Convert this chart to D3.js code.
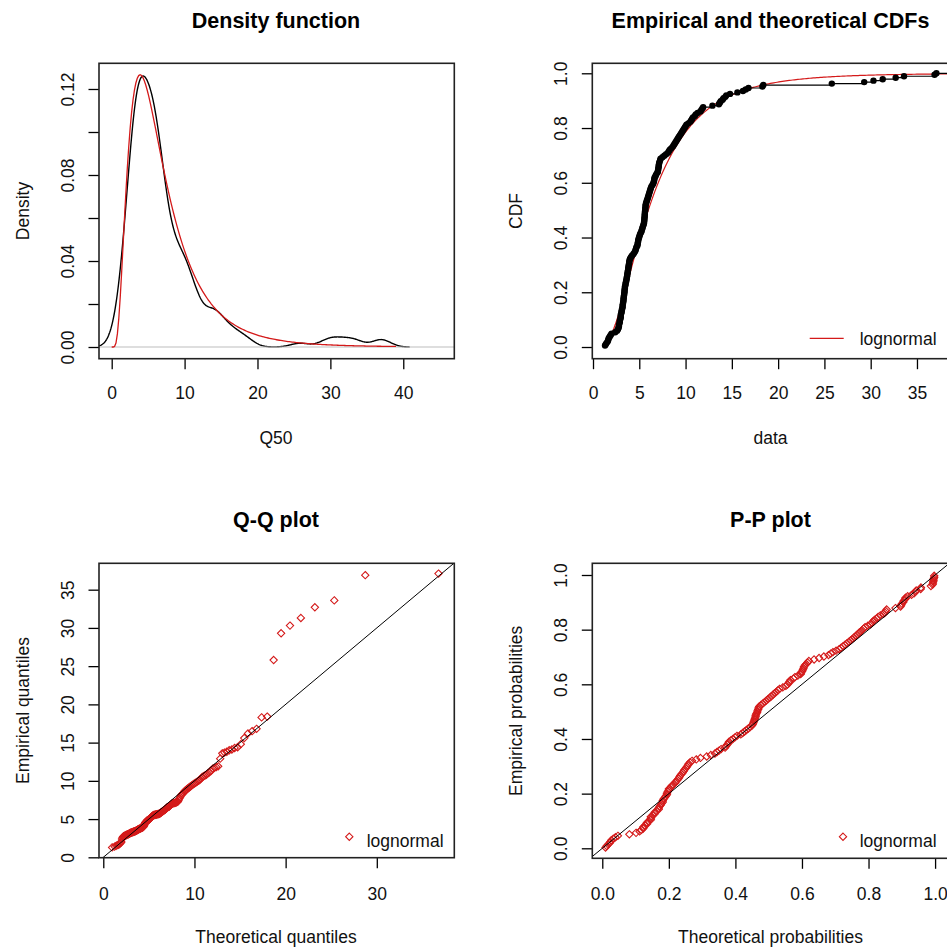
<!DOCTYPE html>
<html>
<head>
<meta charset="utf-8">
<script src="https://cdn.jsdelivr.net/npm/d3@7"></script>
<style>
  body { margin: 0; background: #fff; }
  svg { display: block; font-family: "Liberation Sans", Arial, sans-serif; }
</style>
</head>
<body>
<div id="plot_canvas"></div>
<script>
const q50 = [
  1.3, 1.4, 1.5, 1.6, 1.65, 1.7, 1.8, 1.9, 2.0, 2.4,
  2.6, 2.7, 2.75, 2.8, 2.8, 2.85, 2.9, 2.9, 2.95, 3.0,
  3.0, 3.0, 3.05, 3.1, 3.1, 3.15, 3.2, 3.2, 3.22, 3.25,
  3.27, 3.3, 3.3, 3.32, 3.35, 3.37, 3.4, 3.4, 3.42, 3.44,
  3.45, 3.5, 3.52, 3.55, 3.6, 3.62, 3.65, 3.68, 3.7, 3.72,
  3.75, 3.78, 3.8, 3.82, 3.85, 3.88, 3.9, 3.92, 3.95, 4.0,
  4.1, 4.2, 4.35, 4.45, 4.55, 4.6, 4.65, 4.7, 4.8, 4.82,
  4.85, 4.88, 4.9, 4.95, 5.0, 5.05, 5.1, 5.2, 5.25, 5.3,
  5.35, 5.4, 5.45, 5.5, 5.52, 5.54, 5.55, 5.57, 5.58, 5.6,
  5.6, 5.62, 5.64, 5.65, 5.67, 5.68, 5.7, 5.75, 5.8, 5.85,
  5.9, 5.95, 6.0, 6.05, 6.1, 6.15, 6.2, 6.25, 6.3, 6.4,
  6.5, 6.55, 6.6, 6.62, 6.65, 6.75, 6.8, 6.9, 7.0, 7.02,
  7.05, 7.08, 7.1, 7.12, 7.15, 7.2, 7.25, 7.3, 7.5, 7.7,
  7.9, 8.1, 8.2, 8.3, 8.45, 8.6, 8.7, 8.8, 8.9, 9.0,
  9.1, 9.2, 9.3, 9.4, 9.5, 9.6, 9.7, 9.8, 9.9, 10.0,
  10.1, 10.3, 10.5, 10.6, 10.7, 10.8, 11.0, 11.1, 11.3, 11.6,
  11.7, 11.8, 11.9, 12.9, 13.6, 13.7, 13.8, 14.0, 14.1, 14.3,
  14.4, 14.8, 15.6, 16.2, 16.5, 16.8, 18.3, 18.4, 25.8, 29.3,
  30.3, 31.3, 32.7, 33.6, 36.9, 37.1
];

// fitted lognormal
const meanlog = 1.787;
const sdlog = 0.653;
const fitName = 'lognormal';

// ticks
const densityXTicks = [0, 10, 20, 30, 40];
const densityYTicks = [0, 0.02, 0.04, 0.06, 0.08, 0.10, 0.12];
const densityYLabels = ['0.00', '', '0.04', '', '0.08', '', '0.12'];
const cdfXTicks = [0, 5, 10, 15, 20, 25, 30, 35];
const probTicks = [0, 0.2, 0.4, 0.6, 0.8, 1.0];
const qqXTicks = [0, 10, 20, 30];
const qqYTicks = [0, 5, 10, 15, 20, 25, 30, 35];

const titles = ['Density function', 'Empirical and theoretical CDFs', 'Q-Q plot', 'P-P plot'];
const xLabels = ['Q50', 'data', 'Theoretical quantiles', 'Theoretical probabilities'];
const yLabels = ['Density', 'CDF', 'Empirical quantiles', 'Empirical probabilities'];

const fitColor = '#d41a1a';

// normal distribution helpers
function pnorm(z) {
  // Abramowitz & Stegun 7.1.26
  const t = 1 / (1 + 0.3275911 * Math.abs(z) / Math.SQRT2);
  const y = 1 - (((((1.061405429 * t - 1.453152027) * t) + 1.421413741) * t - 0.284496736) * t + 0.254829592) * t * Math.exp(-z * z / 2);
  return z >= 0 ? 0.5 * (1 + y) : 0.5 * (1 - y);
}

function qnorm(p) {
  // Acklam's approximation
  const a = [-3.969683028665376e+01, 2.209460984245205e+02, -2.759285104469687e+02, 1.383577518672690e+02, -3.066479806614716e+01, 2.506628277459239e+00];
  const b = [-5.447609879822406e+01, 1.615858368580409e+02, -1.556989798598866e+02, 6.680131188771972e+01, -1.328068155288572e+01];
  const c = [-7.784894002430293e-03, -3.223964580411365e-01, -2.400758277161838e+00, -2.549671010229528e+00, 4.374664141464968e+00, 2.938163982698783e+00];
  const d = [7.784695709041462e-03, 3.224671290700398e-01, 2.445134137142996e+00, 3.754408661907416e+00];
  const plow = 0.02425;
  let q, r;
  if (p < plow) {
    q = Math.sqrt(-2 * Math.log(p));
    return (((((c[0] * q + c[1]) * q + c[2]) * q + c[3]) * q + c[4]) * q + c[5]) / ((((d[0] * q + d[1]) * q + d[2]) * q + d[3]) * q + 1);
  }
  if (p > 1 - plow) {
    q = Math.sqrt(-2 * Math.log(1 - p));
    return -(((((c[0] * q + c[1]) * q + c[2]) * q + c[3]) * q + c[4]) * q + c[5]) / ((((d[0] * q + d[1]) * q + d[2]) * q + d[3]) * q + 1);
  }
  q = p - 0.5;
  r = q * q;
  return (((((a[0] * r + a[1]) * r + a[2]) * r + a[3]) * r + a[4]) * r + a[5]) * q / (((((b[0] * r + b[1]) * r + b[2]) * r + b[3]) * r + b[4]) * r + 1);
}

const dlnorm = x => x <= 0 ? 0 : Math.exp(-Math.pow(Math.log(x) - meanlog, 2) / (2 * sdlog * sdlog)) / (x * sdlog * Math.sqrt(2 * Math.PI));
const plnorm = x => x <= 0 ? 0 : pnorm((Math.log(x) - meanlog) / sdlog);
const qlnorm = p => Math.exp(meanlog + sdlog * qnorm(p));

drawAll();

function drawAll() {

  const W = 947, H = 951;

  d3.selectAll('svg').remove();

  const svg = d3.select('#plot_canvas')
    .append('svg')
    .attr('width', W)
    .attr('height', H);

  const n = q50.length;
  const ppts = d3.range(n).map(i => (i + 0.5) / n);

  // bandwidth like R's bw.nrd0
  const iqr = d3.quantile(q50, 0.75) - d3.quantile(q50, 0.25);
  const bandwidth = 0.9 * Math.min(d3.deviation(q50), iqr / 1.34) * Math.pow(n, -0.2);
  console.log('bw', bandwidth);

  // panel boxes
  const panels = [
    { left: 99, right: 454.3, top: 63.3, bottom: 358.7, xd: [-1.742, 47.0], yd: [-0.00544, 0.13195], xTickY: 40, row: 0 },
    { left: 592.3, right: 949, top: 63.3, bottom: 358.7, xd: [-0.076, 38.46], yd: [-0.0427, 1.0365], xTickY: 40, row: 0 },
    { left: 99, right: 454.3, top: 563.3, bottom: 857.7, xd: [-0.47, 38.5], yd: [-0.05, 38.45], xTickY: 42, row: 1 },
    { left: 592.3, right: 949, top: 563.3, bottom: 858.3, xd: [-0.030, 1.0418], yd: [-0.0366, 1.0428], xTickY: 42, row: 1 }
  ];

  const ticks = [
    { x: densityXTicks, xf: d => d, y: densityYTicks, yf: (d, i) => densityYLabels[i] },
    { x: cdfXTicks, xf: d => d, y: probTicks, yf: d => d.toFixed(1) },
    { x: qqXTicks, xf: d => d, y: qqYTicks, yf: d => d },
    { x: probTicks, xf: d => d.toFixed(1), y: probTicks, yf: d => d.toFixed(1) }
  ];

  const frames = panels.map((p, k) => drawFrame(svg, p, ticks[k], k));

  // ---- density function
  let f = frames[0];
  const lo = q50[0] - 3 * bandwidth, hi = q50[n - 1] + 3 * bandwidth;
  const kde = d3.range(512).map(i => {
    const xv = lo + (hi - lo) * i / 511;
    const dens = d3.sum(q50, v => Math.exp(-0.5 * Math.pow((xv - v) / bandwidth, 2))) / (n * bandwidth * Math.sqrt(2 * Math.PI));
    return [xv, dens];
  });
  f.plot.append('path')
    .datum(kde)
    .attr('fill', 'none')
    .attr('stroke', '#000')
    .attr('stroke-width', 1.4)
    .attr('d', d3.line().x(d => f.x(d[0])).y(d => f.y(d[1])));
  f.plot.append('line')
    .attr('x1', panels[0].left).attr('x2', panels[0].right)
    .attr('y1', f.y(0)).attr('y2', f.y(0))
    .attr('stroke', '#bebebe')
    .attr('stroke-width', 1.2);
  const fitDens = d3.range(201).map(i => { const xv = 39 * i / 200; return [xv, dlnorm(xv)]; });
  f.plot.append('path')
    .datum(fitDens)
    .attr('fill', 'none')
    .attr('stroke', fitColor)
    .attr('stroke-width', 1.3)
    .attr('d', d3.line().x(d => f.x(d[0])).y(d => f.y(d[1])));

  // ---- empirical and theoretical CDFs
  f = frames[1];
  const fitCdf = d3.range(201).map(i => { const xv = q50[0] + (38.5 - q50[0]) * i / 200; return [xv, plnorm(xv)]; });
  f.plot.append('path')
    .datum(fitCdf)
    .attr('fill', 'none')
    .attr('stroke', fitColor)
    .attr('stroke-width', 1.2)
    .attr('d', d3.line().x(d => f.x(d[0])).y(d => f.y(d[1])));
  f.plot.selectAll('.step')
    .data(q50)
    .join('line')
    .attr('class', 'step')
    .attr('x1', d => f.x(d))
    .attr('x2', (d, i) => i < n - 1 ? f.x(q50[i + 1]) : panels[1].right)
    .attr('y1', (d, i) => f.y((i + 1) / n))
    .attr('y2', (d, i) => f.y((i + 1) / n))
    .attr('stroke', '#000')
    .attr('stroke-width', 1.2);
  f.plot.selectAll('.ept')
    .data(q50)
    .join('circle')
    .attr('class', 'ept')
    .attr('cx', d => f.x(d))
    .attr('cy', (d, i) => f.y((i + 1) / n))
    .attr('r', 3.2)
    .attr('fill', '#000');
  legend(svg, 'line', 826.7, 338.3, 859.7, 345);

  // ---- Q-Q plot
  f = frames[2];
  f.plot.selectAll('.qq')
    .data(q50)
    .join('path')
    .attr('class', 'qq')
    .attr('transform', (d, i) => `translate(${f.x(qlnorm(ppts[i]))},${f.y(d)})`)
    .attr('d', d3.symbol(d3.symbolDiamond2, 34))
    .attr('fill', 'none')
    .attr('stroke', fitColor)
    .attr('stroke-width', 1.1);
  f.plot.append('line')
    .attr('x1', f.x(-1)).attr('y1', f.y(-1))
    .attr('x2', f.x(40)).attr('y2', f.y(40))
    .attr('stroke', '#000')
    .attr('stroke-width', 1);
  legend(svg, 'diamond', 349.3, 836.7, 366.7, 846.7);

  // ---- P-P plot
  f = frames[3];
  f.plot.selectAll('.pp')
    .data(q50)
    .join('path')
    .attr('class', 'pp')
    .attr('transform', (d, i) => `translate(${f.x(plnorm(d))},${f.y(ppts[i])})`)
    .attr('d', d3.symbol(d3.symbolDiamond2, 34))
    .attr('fill', 'none')
    .attr('stroke', fitColor)
    .attr('stroke-width', 1.1);
  f.plot.append('line')
    .attr('x1', f.x(-0.1)).attr('y1', f.y(-0.1))
    .attr('x2', f.x(1.1)).attr('y2', f.y(1.1))
    .attr('stroke', '#000')
    .attr('stroke-width', 1);
  legend(svg, 'diamond', 843, 836.7, 859.7, 846.7);
}

function drawFrame(svg, p, t, k) {

  const x = d3.scaleLinear().domain(p.xd).range([p.left, p.right]);
  const y = d3.scaleLinear().domain(p.yd).range([p.bottom, p.top]);

  svg.append('clipPath')
    .attr('id', 'clip' + k)
    .append('rect')
    .attr('x', p.left).attr('y', p.top)
    .attr('width', p.right - p.left).attr('height', p.bottom - p.top);

  const plot = svg.append('g').attr('clip-path', `url(#clip${k})`);

  // x axis
  const gx = svg.append('g')
    .attr('transform', `translate(0,${p.bottom})`)
    .call(d3.axisBottom(x).tickValues(t.x).tickFormat(t.xf).tickSize(10.5).tickSizeOuter(0));
  gx.select('.domain').remove();
  gx.selectAll('.tick line').attr('stroke', '#000').attr('stroke-width', 1.3);
  gx.selectAll('.tick text')
    .attr('y', p.xTickY)
    .attr('dy', 0)
    .attr('fill', '#111')
    .style('font-size', '17.5px');

  // y axis, labels turned like R
  const gy = svg.append('g')
    .attr('transform', `translate(${p.left},0)`)
    .call(d3.axisLeft(y).tickValues(t.y).tickFormat(t.yf).tickSize(10.5).tickSizeOuter(0));
  gy.select('.domain').remove();
  gy.selectAll('.tick line').attr('stroke', '#000').attr('stroke-width', 1.3);
  gy.selectAll('.tick text')
    .attr('transform', 'rotate(-90)')
    .attr('x', 0)
    .attr('y', -25)
    .attr('dy', 0)
    .attr('fill', '#111')
    .style('text-anchor', 'middle')
    .style('font-size', '17.5px');

  // box
  svg.append('rect')
    .attr('x', p.left).attr('y', p.top)
    .attr('width', p.right - p.left).attr('height', p.bottom - p.top)
    .attr('fill', 'none')
    .attr('stroke', '#222')
    .attr('stroke-width', 1.6);

  const cx = k % 2 === 0 ? 276 : 770.5;
  const titleY = p.row === 0 ? 28 : 527;
  const xlabY = p.row === 0 ? 444 : 943;
  const ylabX = k % 2 === 0 ? 29 : 522;
  const cy = (p.top + p.bottom) / 2;

  svg.append('text')
    .attr('x', cx).attr('y', titleY)
    .attr('text-anchor', 'middle')
    .style('font-size', '21.5px')
    .style('font-weight', 'bold')
    .text(titles[k]);

  svg.append('text')
    .attr('x', cx).attr('y', xlabY)
    .attr('text-anchor', 'middle')
    .attr('fill', '#111')
    .style('font-size', '17.5px')
    .text(xLabels[k]);

  svg.append('text')
    .attr('transform', `translate(${ylabX},${cy}) rotate(-90)`)
    .attr('text-anchor', 'middle')
    .attr('fill', '#111')
    .style('font-size', '17.5px')
    .text(yLabels[k]);

  return { x: x, y: y, plot: plot };
}

function legend(svg, kind, mx, my, tx, ty) {
  if (kind === 'line') {
    svg.append('line')
      .attr('x1', mx - 17).attr('x2', mx + 17)
      .attr('y1', my).attr('y2', my)
      .attr('stroke', fitColor)
      .attr('stroke-width', 1.2);
  } else {
    svg.append('path')
      .attr('transform', `translate(${mx},${my})`)
      .attr('d', d3.symbol(d3.symbolDiamond2, 34))
      .attr('fill', 'none')
      .attr('stroke', fitColor)
      .attr('stroke-width', 1.1);
  }
  svg.append('text')
    .attr('x', tx).attr('y', ty)
    .attr('fill', '#111')
    .style('font-size', '17.5px')
    .text(fitName);
}
</script>
</body>
</html>
